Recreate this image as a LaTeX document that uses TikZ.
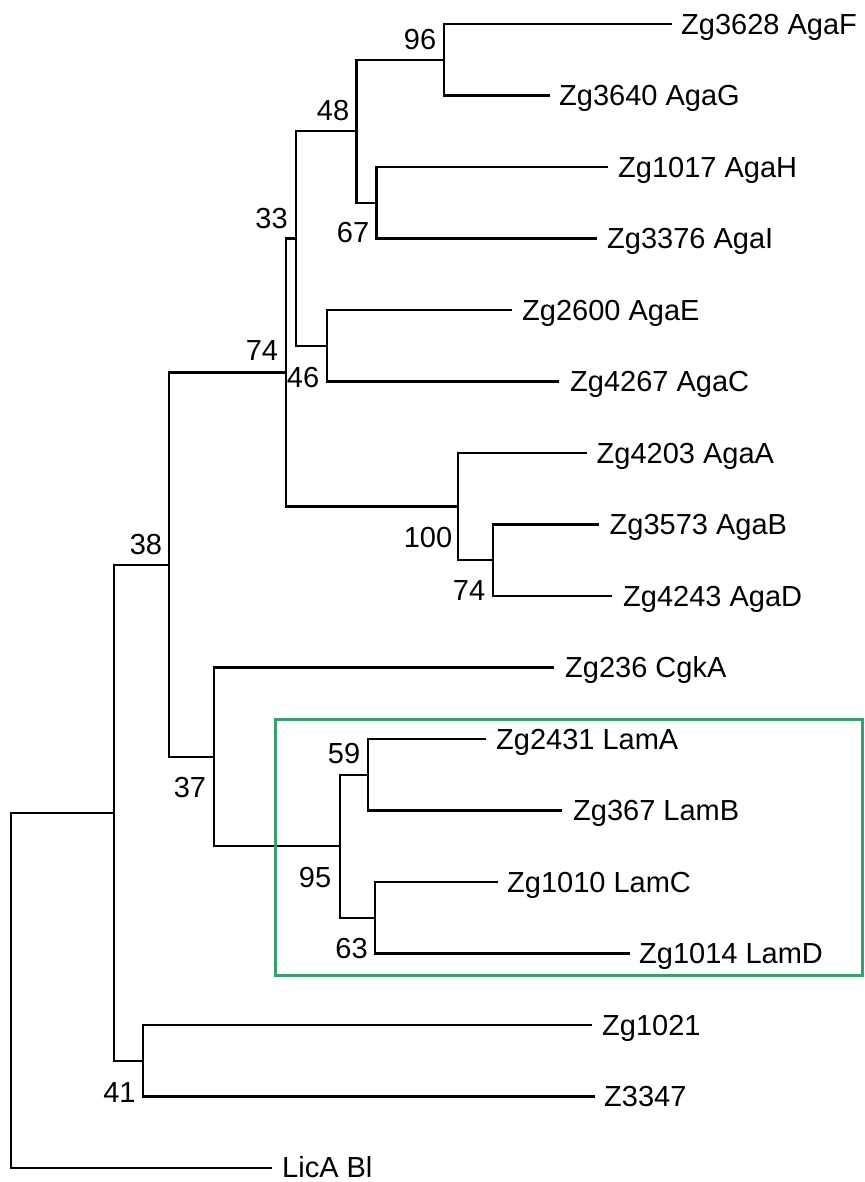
\documentclass[tikz,border=0pt]{standalone}
\usepackage{fontspec}
\setmainfont{Liberation Sans}
\begin{document}
\begin{tikzpicture}[x=1pt,y=-1pt,
  br/.style={line width=2.4pt, black},
  leaflab/.style={anchor=base west, inner sep=0pt, font=\fontsize{29}{34}\selectfont},
  bslab/.style={anchor=base, inner sep=0pt, font=\fontsize{29}{34}\selectfont},
  hlbox/.style={draw=hlgreen, line width=3pt}]
\definecolor{hlgreen}{HTML}{3A9E6E}
\useasboundingbox (0,0) rectangle (864,1182);
% leaf tips
\coordinate (tF) at (672,24);
\coordinate (tG) at (549.5,95.5);
\coordinate (tH) at (608,167);
\coordinate (tI) at (597,238.5);
\coordinate (tE) at (511.5,310);
\coordinate (tC) at (559,381.5);
\coordinate (tA) at (587,453);
\coordinate (tB) at (598.5,524.5);
\coordinate (tD) at (612,596);
\coordinate (tCgk) at (554,667.5);
\coordinate (tLA) at (486,739);
\coordinate (tLB) at (562,810.5);
\coordinate (tLC) at (497.5,882);
\coordinate (tLD) at (630,953.5);
\coordinate (t1021) at (592,1025);
\coordinate (t3347) at (595,1096.5);
\coordinate (tLic) at (271.6,1168);
% internal nodes
\coordinate (n96) at (444,59.75);
\coordinate (n67) at (376.5,202.75);
\coordinate (n48) at (356.5,131.25);
\coordinate (n46) at (327,345.75);
\coordinate (n33) at (296,238.5);
\coordinate (n74b) at (493,560.25);
\coordinate (n100) at (458,506.6);
\coordinate (n74a) at (286,372.55);
\coordinate (n59) at (368,774.75);
\coordinate (n63) at (375,917.75);
\coordinate (n95) at (340,846.25);
\coordinate (n37) at (214,756.9);
\coordinate (n38) at (169,564.7);
\coordinate (n41) at (143,1060.75);
\coordinate (n114) at (114,812.7);
\coordinate (root) at (11,990.35);
% branches
\draw[br] (n96) |- (tF);  \draw[br] (n96) |- (tG);
\draw[br] (n67) |- (tH);  \draw[br] (n67) |- (tI);
\draw[br] (n48) |- (n96); \draw[br] (n48) |- (n67);
\draw[br] (n46) |- (tE);  \draw[br] (n46) |- (tC);
\draw[br] (n33) |- (n48); \draw[br] (n33) |- (n46);
\draw[br] (n74b) |- (tB); \draw[br] (n74b) |- (tD);
\draw[br] (n100) |- (tA); \draw[br] (n100) |- (n74b);
\draw[br] (n74a) |- (n33); \draw[br] (n74a) |- (n100);
\draw[br] (n59) |- (tLA); \draw[br] (n59) |- (tLB);
\draw[br] (n63) |- (tLC); \draw[br] (n63) |- (tLD);
\draw[br] (n95) |- (n59); \draw[br] (n95) |- (n63);
\draw[br] (n37) |- (tCgk); \draw[br] (n37) |- (n95);
\draw[br] (n38) |- (n74a); \draw[br] (n38) |- (n37);
\draw[br] (n41) |- (t1021); \draw[br] (n41) |- (t3347);
\draw[br] (n114) |- (n38); \draw[br] (n114) |- (n41);
\draw[br] (root) |- (n114); \draw[br] (root) |- (tLic);
% highlight box
\draw[hlbox] (275,719) rectangle (862,975);
% leaf labels
\node[leaflab] (lF) at (681,34.4) {Zg3628 AgaF};
\node[leaflab] (lG) at (559,105.9) {Zg3640 AgaG};
\node[leaflab] (lH) at (618,177.4) {Zg1017 AgaH};
\node[leaflab] (lI) at (607,248.9) {Zg3376 AgaI};
\node[leaflab] (lE) at (522,320.4) {Zg2600 AgaE};
\node[leaflab] (lC) at (570,391.9) {Zg4267 AgaC};
\node[leaflab] (lA) at (596.5,463.4) {Zg4203 AgaA};
\node[leaflab] (lB) at (609.5,534.9) {Zg3573 AgaB};
\node[leaflab] (lD) at (623,606.4) {Zg4243 AgaD};
\node[leaflab] (lCgk) at (565,677.9) {Zg236 CgkA};
\node[leaflab] (lLA) at (496,749.4) {Zg2431 LamA};
\node[leaflab] (lLB) at (573,820.9) {Zg367 LamB};
\node[leaflab] (lLC) at (507,892.4) {Zg1010 LamC};
\node[leaflab] (lLD) at (639,963.9) {Zg1014 LamD};
\node[leaflab] (l1021) at (602,1035.4) {Zg1021};
\node[leaflab] (l3347) at (604,1106.9) {Z3347};
\node[leaflab] (lLic) at (282,1177.8) {LicA Bl};
% bootstrap values
\node[bslab] (b96) at (420,49.4) {96};
\node[bslab] (b48) at (333,120.4) {48};
\node[bslab] (b33) at (271.5,228.4) {33};
\node[bslab] (b67) at (353,242.4) {67};
\node[bslab] (b74a) at (262,360.4) {74};
\node[bslab] (b46) at (303,387.4) {46};
\node[bslab] (b100) at (428,547.4) {100};
\node[bslab] (b74b) at (469,600.4) {74};
\node[bslab] (b38) at (146,554.4) {38};
\node[bslab] (b37) at (190,797.4) {37};
\node[bslab] (b59) at (344,763.4) {59};
\node[bslab] (b95) at (315,887.4) {95};
\node[bslab] (b63) at (351.5,958.4) {63};
\node[bslab] (b41) at (119.5,1102.4) {41};
\end{tikzpicture}
\end{document}
